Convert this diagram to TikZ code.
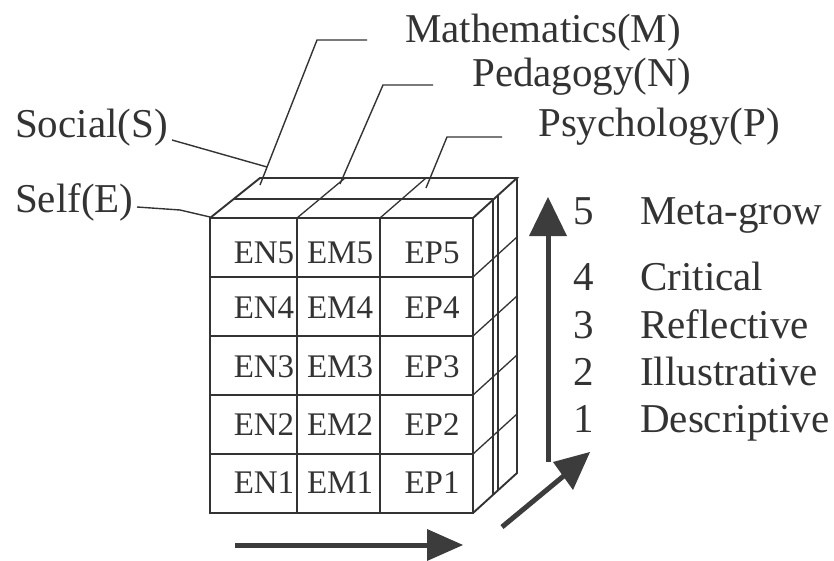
\documentclass[tikz,border=0pt]{standalone}
\usepackage{fontspec}
\setmainfont{Liberation Serif}
\definecolor{ink}{HTML}{333333}
\definecolor{arrowc}{HTML}{3C3C3C}
\begin{document}
\begin{tikzpicture}[x=1pt,y=-1pt,
  ln/.style={line width=1.9pt, draw=ink},
  thinln/.style={line width=1.3pt, draw=ink},
  lead/.style={line width=1.4pt, draw=ink},
  lbl/.style={inner sep=0pt, anchor=base west, text=ink, font=\fontsize{41}{41}\selectfont},
  cell/.style={inner sep=0pt, anchor=base, text=ink, font=\fontsize{33}{33}\selectfont},
  arr/.style={fill=arrowc, draw=none},
  shaft/.style={line width=5pt, draw=arrowc}]
\useasboundingbox (0,0) rectangle (834,561);
\fill[white] (0,0) rectangle (834,561);

% ---- cube: front face
\draw[ln] (210,218) rectangle (473,513);
\foreach \y in {277,336,395,454} \draw[ln] (210,\y) -- (473,\y);
\draw[thinln] (297,218) -- (297,513);
\draw[thinln] (380,218) -- (380,513);
% ---- top face
\draw[ln] (210,218) -- (260,178) -- (517,178) -- (473,218);
\draw[thinln] (297,218) -- (345,178);
\draw[thinln] (380,218) -- (426,178);
\draw[ln] (234,199) -- (494,199);
% ---- right face
\draw[ln] (517,178) -- (517,473) -- (473,513);
\foreach \y in {277,336,395,454} \draw[thinln] (473,\y) -- (517,\y-40);
\draw[thinln] (493,200) -- (493,495);
\draw[thinln] (498,195) -- (498,491);

% ---- cell labels
\foreach \r/\b in {5/263,4/318,3/377,2/435,1/493}{
  \node[cell] (EN\r) at (264,\b) {EN\r};
  \node[cell] (EM\r) at (340,\b) {EM\r};
  \node[cell] (EP\r) at (432,\b) {EP\r};
}

% ---- dimension labels and leaders
\node[lbl] (math) at (405,43) {Mathematics(M)};
\node[lbl] (peda) at (472,87) {Pedagogy(N)};
\node[lbl] (psy)  at (538,137) {Psychology(P)};
\node[lbl] (soc)  at (15,138) {Social(S)};
\node[lbl] (self) at (15,212) {Self(E)};

\coordinate (mA) at (367,40); \coordinate (mB) at (317,40); \coordinate (mC) at (260,185);
\coordinate (nA) at (433,85); \coordinate (nB) at (383,85); \coordinate (nC) at (340,184);
\coordinate (pA) at (502,137); \coordinate (pB) at (447,137); \coordinate (pC) at (426,188);
\coordinate (sA) at (172,140); \coordinate (sB) at (267,167);
\coordinate (eA) at (137,207); \coordinate (eB) at (180,210); \coordinate (eC) at (210,217);
\draw[lead] (mA) -- (mB) -- (mC);
\draw[lead] (nA) -- (nB) -- (nC);
\draw[lead] (pA) -- (pB) -- (pC);
\draw[lead] (sA) -- (sB);
\draw[lead] (eA) -- (eB) -- (eC);

% ---- level labels
\foreach \n/\t/\b in {5/Meta-grow/225,4/Critical/290,3/Reflective/338,2/Illustrative/385,1/Descriptive/432}{
  \node[lbl] (num\n) at (573,\b) {\n};
  \node[lbl] (lev\n) at (640,\b) {\t};
}

% ---- axes arrows
\coordinate (vB) at (548,462); \coordinate (vT) at (548,232);
\draw[shaft] (vB) -- (vT);
\fill[arr] (548,197) -- (567,236) -- (529,236) -- cycle;

\coordinate (dB) at (502,527); \coordinate (dT) at (566,474);
\draw[shaft] (dB) -- (dT);
\fill[arr] (590,452) -- (553,462) -- (573,490) -- cycle;

\coordinate (hB) at (235,545); \coordinate (hT) at (430,545);
\draw[shaft] (hB) -- (hT);
\fill[arr] (463,545) -- (427,529) -- (427,561) -- cycle;
\end{tikzpicture}
\end{document}
